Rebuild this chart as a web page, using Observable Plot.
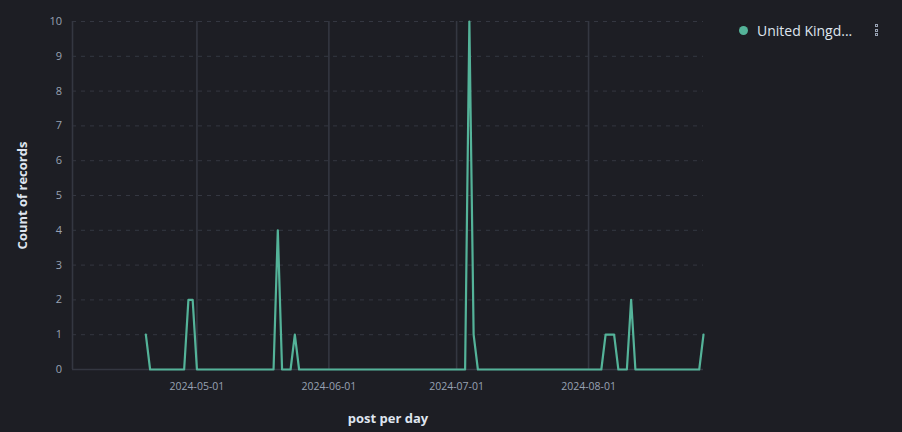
<!DOCTYPE html>
<html>
<head>
<meta charset="utf-8">
<script src="https://cdn.jsdelivr.net/npm/d3@7"></script>
<script src="https://cdn.jsdelivr.net/npm/@observablehq/plot@0.6"></script>
<style>
  html, body { margin: 0; padding: 0; background: #1d1e24; }
  #wrap { position: relative; width: 902px; height: 432px; background: #1d1e24; font-family: "Open Sans", "Noto Sans", sans-serif; overflow: hidden; }
  #chart { position: absolute; left: 0; top: 0; }
  #legend { position: absolute; left: 739px; top: 20px; height: 20px; display: flex; align-items: center; color: #dfe5ef; font-size: 14px; }
  #legend .dot { width: 9px; height: 9px; border-radius: 50%; background: #54b399; margin-right: 9px; }
  #menu { position: absolute; left: 875px; top: 24px; width: 4px; }
  #menu span { display: block; width: 3px; height: 3px; border: 0.8px solid #98a2b3; box-sizing: border-box; margin-bottom: 1.6px; }
</style>
</head>
<body>
<div id="wrap">
  <div id="chart"></div>
  <div id="legend"><div class="dot"></div><span id="seriesName"></span></div>
  <div id="menu"><span></span><span></span><span></span></div>
</div>
<script>
// Series: vertex points of the daily count line (United Kingdom)
const dates = [
  "2024-04-19","2024-04-20","2024-04-28","2024-04-29","2024-04-30","2024-05-01",
  "2024-05-19","2024-05-20","2024-05-21","2024-05-23","2024-05-24","2024-05-25",
  "2024-07-03","2024-07-04","2024-07-05","2024-07-06",
  "2024-08-04","2024-08-05","2024-08-07","2024-08-08","2024-08-10","2024-08-11","2024-08-12",
  "2024-08-27","2024-08-28"
];
const counts = [
  1,0,0,2,2,0,
  0,4,0,0,1,0,
  0,10,1,0,
  0,1,1,0,0,2,0,
  0,1
];
const seriesName = "United Kingd...";
const xTickLabels = ["2024-05-01","2024-06-01","2024-07-01","2024-08-01"];
const yTicks = [0,1,2,3,4,5,6,7,8,9,10];
const xDomainLabels = ["2024-04-01T18:30:00Z","2024-08-28T00:00:00Z"];
const yTitle = "Count of records";
const xTitle = "post per day";

const data = dates.map((d, i) => ({date: new Date(d + "T00:00:00Z"), count: counts[i]}));
const xTicks = xTickLabels.map(d => new Date(d + "T00:00:00Z"));
const xDomain = xDomainLabels.map(d => new Date(d));

document.getElementById("seriesName").textContent = seriesName;

const gridColor = "#343741";
const chart = Plot.plot({
  width: 902,
  height: 432,
  marginLeft: 72,
  marginRight: 199,
  marginTop: 21,
  marginBottom: 63,
  style: {background: "transparent", color: "#98a2b3", fontFamily: "'Open Sans', 'Noto Sans', sans-serif", fontSize: "11px"},
  x: {type: "utc", domain: xDomain},
  y: {domain: [0, 10]},
  marks: [
    Plot.gridY(yTicks, {stroke: gridColor, strokeOpacity: 1, strokeDasharray: "4,5", strokeWidth: 1}),
    Plot.gridX(xTicks, {stroke: gridColor, strokeOpacity: 1, strokeWidth: 1.6}),
    Plot.ruleY([0], {stroke: gridColor, strokeWidth: 1.6}),
    Plot.ruleX([xDomain[0]], {stroke: gridColor, strokeWidth: 1.6}),
    Plot.axisX(xTicks, {tickSize: 0, tickPadding: 13, tickFormat: d3.utcFormat("%Y-%m-%d"), label: null, fill: "#98a2b3", fontSize: 10.5}),
    Plot.axisY(yTicks, {tickSize: 0, tickPadding: 10.5, label: null, fill: "#98a2b3", fontSize: 11}),
    Plot.line(data, {x: "date", y: "count", stroke: "#54b399", strokeWidth: 2.2, curve: "linear"}),
    Plot.text([yTitle], {frameAnchor: "left", textAnchor: "middle", dx: -50, rotate: -90, fill: "#dfe5ef", fontWeight: "bold", fontSize: 13}),
    Plot.text([xTitle], {frameAnchor: "bottom", dy: 53, fill: "#dfe5ef", fontWeight: "bold", fontSize: 13})
  ]
});
document.getElementById("chart").appendChild(chart);
</script>
</body>
</html>
